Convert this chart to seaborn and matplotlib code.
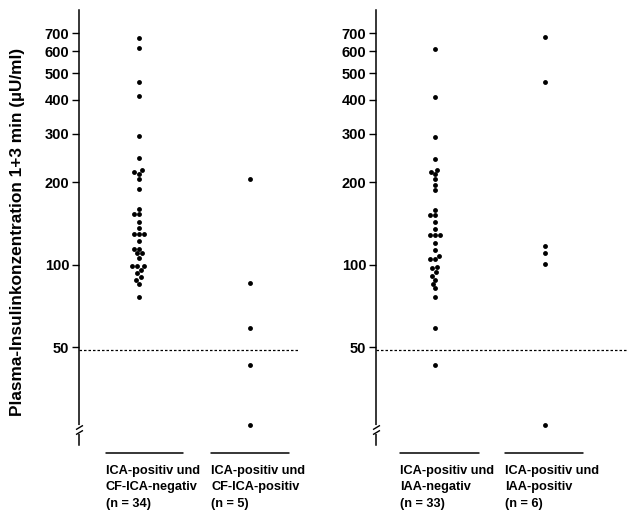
import pandas as pd
import matplotlib
matplotlib.use('Agg')
import matplotlib.pyplot as plt
import matplotlib.ticker as mticker
import seaborn as sns

# values (plasma insulin, µU/ml)
cf_neg = [670, 617, 464, 414, 294, 246, 222, 218, 215, 205, 189, 160, 153, 153,
          143, 136, 129, 129, 129, 122, 114, 114, 110, 110, 106, 99, 99, 99,
          96, 93, 90, 88, 85, 76]
cf_pos = [205, 86, 59, 43, 26]
iaa_neg = [615, 410, 292, 244, 222, 218, 214, 205, 196, 187, 159, 152, 152,
           143, 135, 128, 128, 128, 120, 113, 108, 105, 105, 98, 97, 94, 91,
           88, 85, 82, 76, 59, 43]
iaa_pos = [675, 464, 117, 110, 101, 26]

left_groups = ['ICA-positiv und\nCF-ICA-negativ\n(n = 34)',
               'ICA-positiv und\nCF-ICA-positiv\n(n = 5)']
right_groups = ['ICA-positiv und\nIAA-negativ\n(n = 33)',
                'ICA-positiv und\nIAA-positiv\n(n = 6)']
yticks = [50, 100, 200, 300, 400, 500, 600, 700]
threshold = 49
ylabel = 'Plasma-Insulinkonzentration 1+3 min (µU/ml)'

sns.set_style('white')
fam = ['Liberation Sans Narrow', 'Liberation Sans', 'DejaVu Sans']
plt.rcParams['font.family'] = fam
plt.rcParams['font.weight'] = 'bold'
plt.rcParams['text.color'] = 'black'
plt.rcParams['ytick.color'] = 'black'
plt.rcParams['ytick.labelcolor'] = 'black'

fig = plt.figure(figsize=(6.35, 5.16), dpi=100)
ax1 = fig.add_axes([0.1244, 0.1376, 0.348, 0.843])
ax2 = fig.add_axes([0.5921, 0.1376, 0.3953, 0.843])


def make_df(groups, a, b):
    return pd.DataFrame({'grp': [groups[0]] * len(a) + [groups[1]] * len(b),
                         'val': a + b})


def panel(ax, groups, a, b, xlim, line_c, line_half):
    df = make_df(groups, a, b)
    ax.set_yscale('log')
    sns.swarmplot(data=df, x='grp', y='val', order=groups, color='black',
                  size=3.5, ax=ax)
    ax.set_ylim(22, 850)
    ax.set_xlim(*xlim)
    ax.axhline(threshold, color='black', lw=0.9, ls=(0, (2, 1.6)))
    ax.yaxis.set_major_locator(mticker.FixedLocator(yticks))
    ax.yaxis.set_major_formatter(mticker.FixedFormatter([str(t) for t in yticks]))
    ax.yaxis.set_minor_locator(mticker.NullLocator())
    ax.tick_params(axis='y', left=True, length=5, width=1, pad=2,
                   labelsize=10.5, color='black', labelcolor='black')
    ax.set_xticks([])
    ax.set_xlabel('')
    ax.set_ylabel('')
    for s in ['top', 'right', 'bottom']:
        ax.spines[s].set_visible(False)
    ax.spines['left'].set_color('black')
    ax.spines['left'].set_linewidth(1.1)
    for lab in ax.get_yticklabels():
        lab.set_fontweight('bold')
    # underline and label per group
    tr = ax.get_xaxis_transform()
    for i, g in enumerate(groups):
        c = i + line_c[i]
        ax.plot([c - line_half, c + line_half], [-0.019, -0.019], color='black',
                lw=1.1, transform=tr, clip_on=False)
        ax.text(c - line_half, -0.045, g, transform=tr, ha='left', va='top',
                fontsize=9.2, fontweight='bold', linespacing=1.5,
                color='black')
    # axis break on the spine
    y1, y2 = 0.03, 0.042
    ax.plot([0, 0], [y1, y2], color='white', lw=3, transform=ax.transAxes,
            clip_on=False, zorder=3)
    ax.plot([0, 0], [y1, y2], marker=[(-1, -0.6), (1, 0.6)], markersize=5,
            ls='none', color='black', mec='black', mew=1,
            transform=ax.transAxes, clip_on=False, zorder=4)


panel(ax1, left_groups, cf_neg, cf_pos, (-0.54, 1.45), [0.05, 0.0], 0.35)
panel(ax2, right_groups, iaa_neg, iaa_pos, (-0.537, 1.745), [0.04, -0.01], 0.355)

fig.text(18 / 635, 1 - 232 / 516, ylabel, rotation=90, ha='center', va='center',
         fontsize=12.4, fontweight='bold', color='black')

fig.savefig('out.png', dpi=100)
